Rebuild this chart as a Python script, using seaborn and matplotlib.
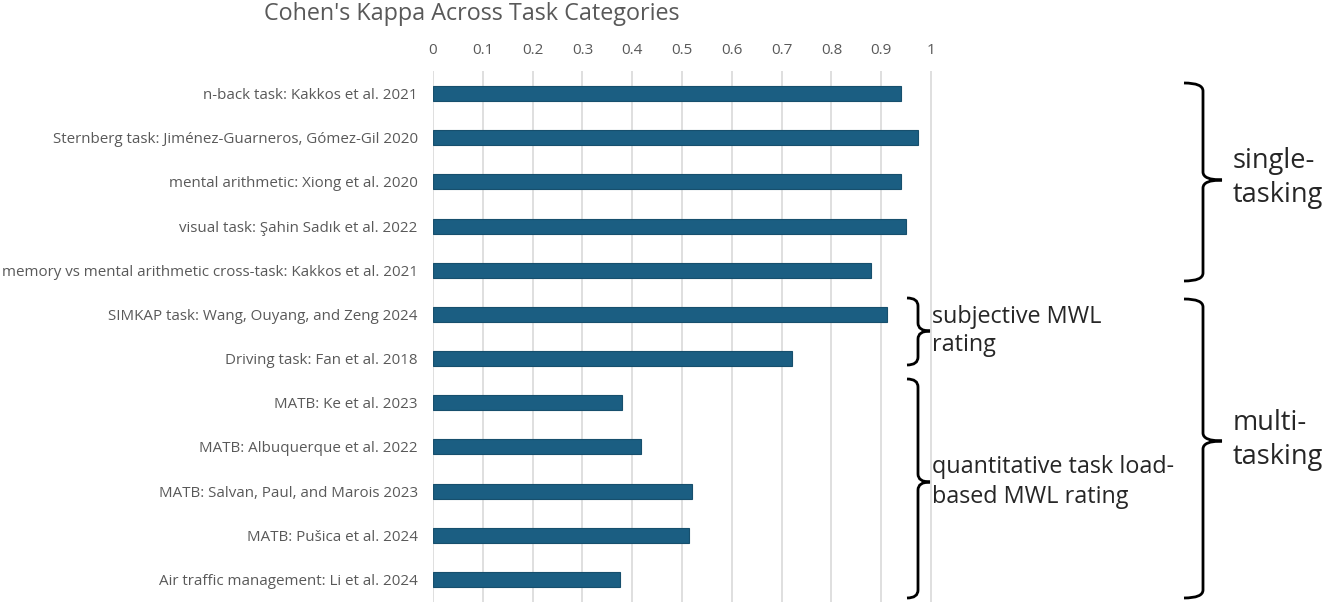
import numpy as np
import pandas as pd
import seaborn as sns
from matplotlib import pyplot as plt
from matplotlib.path import Path
from matplotlib.patches import PathPatch

tasks = [
    "n-back task: Kakkos et al. 2021",
    "Sternberg task: Jiménez-Guarneros, Gómez-Gil 2020",
    "mental arithmetic: Xiong et al. 2020",
    "visual task: Şahin Sadık et al. 2022",
    "memory vs mental arithmetic cross-task: Kakkos et al. 2021",
    "SIMKAP task: Wang, Ouyang, and Zeng 2024",
    "Driving task: Fan et al. 2018",
    "MATB: Ke et al. 2023",
    "MATB: Albuquerque et al. 2022",
    "MATB: Salvan, Paul, and Marois 2023",
    "MATB: Pušica et al. 2024",
    "Air traffic management: Li et al. 2024",
]
kappa = [0.939, 0.973, 0.939, 0.949, 0.880, 0.912, 0.720, 0.380, 0.417, 0.521, 0.514, 0.375]
ticks = [0, 0.1, 0.2, 0.3, 0.4, 0.5, 0.6, 0.7, 0.8, 0.9, 1]

W, H = 1325, 608
GRAY = "#595959"
BAR = "#1b5e82"

df = pd.DataFrame({"task": tasks, "kappa": kappa})

sns.set_style("white")
plt.rcParams["font.family"] = ["Open Sans", "DejaVu Sans"]

fig = plt.figure(figsize=(W / 100, H / 100), dpi=100)
ax = fig.add_axes([433 / W, 1 - 601.6 / H, (932 - 433) / W, (601.6 - 71.4) / H])

sns.barplot(data=df, y="task", x="kappa", orient="h", color=BAR, width=0.34,
            edgecolor="#174f6d", linewidth=0.8, saturation=1, ax=ax)

ax.set_xlim(0, 1.002)
ax.set_xticks(ticks)
ax.set_xticklabels([f"{t:g}" for t in ticks])
ax.xaxis.tick_top()
ax.grid(axis="x", color="#d9d9d9", linewidth=1.2)
ax.set_axisbelow(True)
for s in ax.spines.values():
    s.set_visible(False)
ax.tick_params(axis="both", length=0, labelcolor=GRAY)
ax.tick_params(axis="x", pad=10, labelsize=11)
ax.tick_params(axis="y", pad=11, labelsize=10.9)
ax.set_xlabel("")
ax.set_ylabel("")


def px(x, y):
    return (x / W, 1 - y / H)


def brace(x0, xv, xt, y0, ym, y1, r=8):
    pts = [px(x0, y0), px(xv, y0), px(xv, y0 + r),
           px(xv, ym - r), px(xv, ym), px(xt, ym),
           px(xv, ym), px(xv, ym + r),
           px(xv, y1 - r), px(xv, y1), px(x0, y1)]
    codes = [Path.MOVETO, Path.CURVE3, Path.CURVE3,
             Path.LINETO, Path.CURVE3, Path.CURVE3,
             Path.CURVE3, Path.CURVE3,
             Path.LINETO, Path.CURVE3, Path.CURVE3]
    fig.patches.append(PathPatch(Path(pts, codes), transform=fig.transFigure,
                                 fill=False, lw=2, color="black"))


brace(1184, 1203, 1222, 83, 180, 281)
brace(1184, 1203, 1222, 299, 441, 598)
brace(907, 918, 930, 298, 331, 365)
brace(907, 918, 930, 379, 482, 598)

fig.text(*px(1233, 178), "single-\ntasking", fontsize=19.5, va="center", ha="left", linespacing=1.25)
fig.text(*px(1233, 440), "multi-\ntasking", fontsize=19.5, va="center", ha="left", linespacing=1.25)
fig.text(*px(932, 331), "subjective MWL\nrating", fontsize=16.8, va="center", ha="left", linespacing=1.25)
fig.text(*px(932, 482), "quantitative task load-\nbased MWL rating", fontsize=16.8, va="center", ha="left", linespacing=1.3)

fig.text(*px(472, 14), "Cohen's Kappa Across Task Categories", fontsize=16.8, color=GRAY,
         ha="center", va="center")

fig.savefig("out.png", dpi=100)
